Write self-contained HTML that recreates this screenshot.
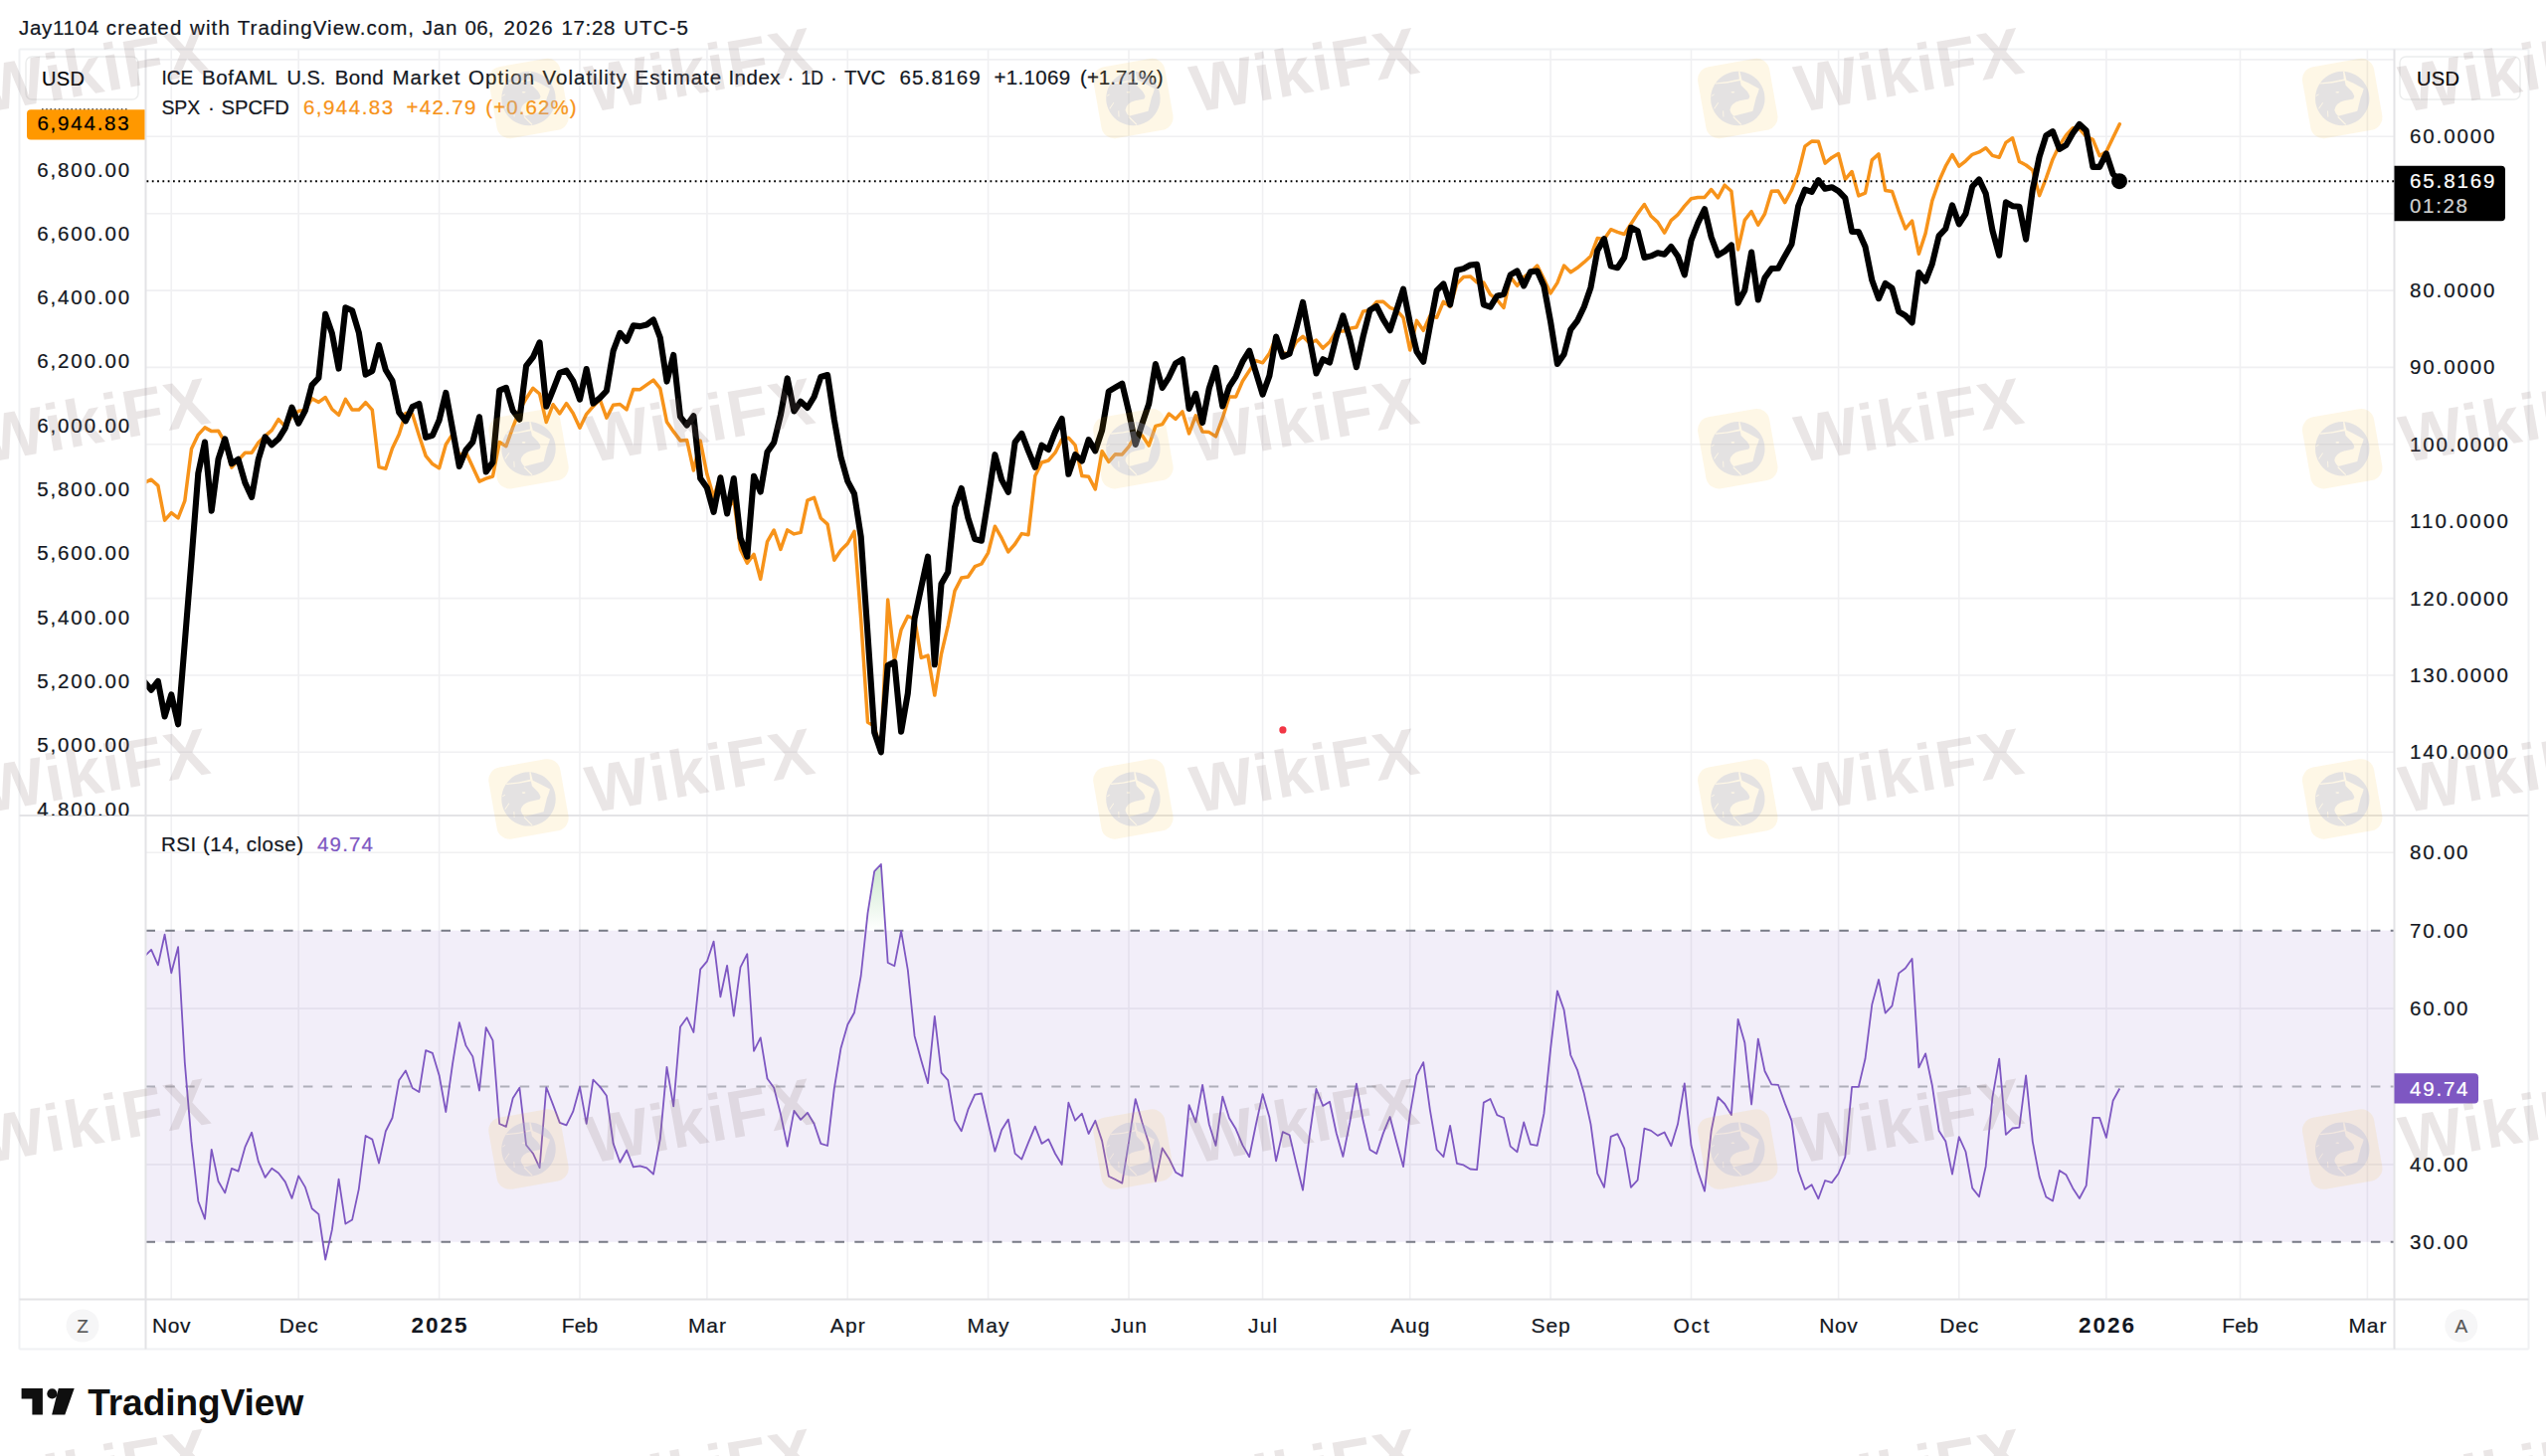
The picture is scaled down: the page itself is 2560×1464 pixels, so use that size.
<!DOCTYPE html>
<html lang="en"><head><meta charset="utf-8"><title>TradingView chart - MOVE index vs SPX</title>
<style>html,body{margin:0;padding:0;background:#fff}body{width:2560px;height:1464px;overflow:hidden}svg{display:block}text{font-family:'Liberation Sans', Arial, Helvetica, sans-serif}</style>
</head><body>
<svg width="2560" height="1464" viewBox="0 0 2560 1464">
<rect width="2560" height="1464" fill="#fff"/>
<path d="M172.3,49.5 V1306.5 M300.2,49.5 V1306.5 M441.6,49.5 V1306.5 M583.0,49.5 V1306.5 M710.9,49.5 V1306.5 M852.3,49.5 V1306.5 M993.6,49.5 V1306.5 M1135.0,49.5 V1306.5 M1269.6,49.5 V1306.5 M1417.7,49.5 V1306.5 M1559.1,49.5 V1306.5 M1700.5,49.5 V1306.5 M1848.6,49.5 V1306.5 M1969.8,49.5 V1306.5 M2117.9,49.5 V1306.5 M2252.5,49.5 V1306.5 M2380.4,49.5 V1306.5 M146.5,59.9 H2407.5 M146.5,137.3 H2407.5 M146.5,214.7 H2407.5 M146.5,292.1 H2407.5 M146.5,369.4 H2407.5 M146.5,446.8 H2407.5 M146.5,524.2 H2407.5 M146.5,601.6 H2407.5 M146.5,679.0 H2407.5 M146.5,756.3 H2407.5 M146.5,857.3 H2407.5 M146.5,1014.1 H2407.5 M146.5,1170.9 H2407.5" stroke="#f0f0f2" stroke-width="1.6" fill="none"/>
<rect x="146.5" y="935.7" width="2261.0" height="313.1" fill="#7e57c2" fill-opacity="0.1"/>
<path d="M146.5,935.7 H2407.5" stroke="#787b86" stroke-opacity="1" stroke-width="2" stroke-dasharray="9.5,10.3" fill="none"/>
<path d="M146.5,1092.6 H2407.5" stroke="#787b86" stroke-opacity="0.55" stroke-width="2" stroke-dasharray="9.5,10.3" fill="none"/>
<path d="M146.5,1248.8 H2407.5" stroke="#787b86" stroke-opacity="1" stroke-width="2" stroke-dasharray="9.5,10.3" fill="none"/>
<path d="M19.5,49.5 H2542.5 M19.5,49.5 V1356.5 M2542.5,49.5 V1356.5" stroke="#f0f1f3" stroke-width="2" fill="none"/>
<path d="M19.5,1356.5 H2542.5" stroke="#f0f1f3" stroke-width="2" fill="none"/>
<path d="M146.5,49.5 V1356.5 M2407.5,49.5 V1356.5 M19.5,820.0 H2542.5 M19.5,1306.5 H2542.5" stroke="#e3e3e6" stroke-width="2" fill="none"/>
<clipPath id="cm"><rect x="147.5" y="49.5" width="2260.0" height="770.5"/></clipPath>
<path clip-path="url(#cm)" d="M145.4,485.2 L152.1,482.2 L158.9,488.4 L165.6,523.2 L172.3,515.7 L179.1,520.9 L185.8,503.7 L192.5,451.3 L199.3,437.1 L206.0,429.9 L212.7,433.6 L219.5,433.2 L226.2,444.8 L232.9,470.1 L239.6,462.7 L246.4,455.2 L253.1,455.2 L259.8,445.0 L266.6,438.4 L273.3,432.6 L280.0,421.6 L286.8,428.9 L293.5,418.1 L300.2,413.3 L307.0,412.5 L313.7,400.7 L320.4,404.4 L327.2,399.5 L333.9,411.5 L340.6,417.3 L347.4,401.4 L354.1,412.0 L360.8,412.1 L367.6,404.7 L374.3,412.2 L381.0,469.6 L387.8,471.2 L394.5,450.7 L401.2,436.8 L407.9,415.6 L414.7,416.4 L421.4,437.9 L428.1,458.4 L434.9,466.6 L441.6,470.7 L448.3,447.0 L455.1,436.4 L461.8,457.8 L468.5,454.8 L482.0,484.1 L488.7,481.2 L495.5,479.0 L502.2,444.6 L508.9,448.7 L515.7,429.6 L522.4,412.7 L529.1,400.7 L535.9,390.3 L542.6,396.0 L549.3,424.5 L556.1,406.7 L562.8,415.9 L569.5,405.6 L576.2,415.5 L583.0,430.2 L589.7,416.3 L596.4,408.7 L603.2,401.6 L609.9,420.1 L616.6,407.2 L623.4,406.5 L630.1,411.8 L636.8,391.5 L643.6,391.7 L650.3,386.8 L657.0,382.1 L663.8,390.7 L670.5,424.3 L677.2,433.9 L684.0,442.9 L690.7,442.6 L697.4,473.0 L704.2,443.1 L710.9,476.8 L717.6,499.8 L724.4,479.1 L731.1,512.6 L737.8,502.4 L744.5,552.4 L751.3,566.1 L758.0,557.3 L764.7,582.3 L771.5,544.6 L778.2,533.0 L784.9,552.4 L791.7,532.9 L798.4,536.9 L805.1,535.4 L811.9,503.2 L818.6,500.3 L825.3,521.0 L832.1,527.1 L838.8,563.2 L845.5,553.3 L852.3,546.5 L859.0,534.3 L865.7,622.5 L872.5,726.2 L879.2,730.0 L885.9,755.5 L892.7,603.1 L899.4,663.8 L906.1,633.2 L912.8,619.5 L919.6,622.5 L926.3,661.4 L933.0,659.1 L939.8,699.1 L946.5,657.5 L953.2,629.1 L960.0,594.1 L966.7,581.1 L973.4,580.0 L980.2,569.7 L986.9,567.0 L993.6,555.8 L1000.4,529.2 L1007.1,540.9 L1013.8,554.9 L1020.6,547.0 L1027.3,536.6 L1034.0,537.8 L1040.8,478.6 L1047.5,465.0 L1054.2,463.0 L1061.0,455.2 L1067.7,441.9 L1074.4,440.2 L1081.1,447.6 L1087.9,478.5 L1094.6,479.3 L1101.3,491.9 L1108.1,453.7 L1114.8,464.3 L1121.5,456.7 L1128.3,456.9 L1135.0,449.1 L1141.7,438.0 L1148.5,437.9 L1155.2,448.0 L1161.9,428.4 L1168.7,426.6 L1175.4,416.0 L1182.1,421.4 L1188.9,413.9 L1195.6,435.9 L1202.3,417.9 L1209.1,434.1 L1215.8,434.6 L1222.5,438.9 L1229.3,420.4 L1236.0,398.9 L1242.7,398.9 L1249.4,383.2 L1256.2,372.8 L1262.9,362.6 L1269.6,364.8 L1276.4,355.4 L1283.1,338.7 L1289.8,354.6 L1296.6,356.0 L1303.3,343.8 L1310.0,338.3 L1316.8,345.0 L1323.5,342.1 L1330.2,350.1 L1337.0,343.7 L1343.7,332.9 L1350.4,333.1 L1357.2,330.2 L1363.9,329.0 L1370.6,313.1 L1377.4,311.7 L1384.1,303.6 L1390.8,303.2 L1397.6,309.3 L1404.3,311.8 L1411.0,319.4 L1417.7,352.0 L1424.5,322.4 L1431.2,332.3 L1437.9,317.6 L1444.7,319.2 L1451.4,303.3 L1458.1,308.4 L1464.9,285.2 L1471.6,278.5 L1478.3,277.9 L1485.1,283.9 L1491.8,284.1 L1498.5,296.2 L1505.3,301.3 L1512.0,309.5 L1518.7,278.4 L1525.5,287.3 L1532.2,278.7 L1538.9,273.7 L1545.7,267.1 L1552.4,280.5 L1559.1,294.9 L1565.9,284.4 L1572.6,267.1 L1579.3,273.7 L1586.0,269.3 L1592.8,263.7 L1599.5,257.5 L1606.2,239.6 L1613.0,240.6 L1619.7,230.7 L1626.4,233.4 L1633.2,235.5 L1639.9,225.3 L1646.6,214.9 L1653.4,205.5 L1660.1,217.3 L1666.8,223.4 L1673.6,234.1 L1680.3,221.6 L1687.0,215.9 L1693.8,207.1 L1700.5,199.8 L1707.2,198.5 L1714.0,198.4 L1720.7,190.5 L1727.4,198.8 L1734.2,186.2 L1740.9,192.2 L1747.6,250.9 L1754.3,221.4 L1761.1,212.7 L1767.8,226.2 L1774.5,215.0 L1781.3,192.2 L1788.0,192.1 L1794.7,203.6 L1801.5,191.1 L1808.2,174.0 L1814.9,147.1 L1821.7,142.1 L1828.4,142.2 L1835.1,164.1 L1841.9,158.4 L1848.6,154.6 L1855.3,180.4 L1862.1,172.5 L1868.8,196.9 L1875.5,194.2 L1882.3,160.9 L1889.0,154.9 L1895.7,191.4 L1902.5,192.5 L1909.2,212.3 L1915.9,230.0 L1922.6,222.0 L1929.4,255.3 L1936.1,234.6 L1942.8,201.8 L1949.6,182.3 L1956.3,167.2 L1963.0,155.5 L1969.8,167.2 L1976.5,161.8 L1983.2,155.3 L1990.0,152.9 L1996.7,148.7 L2003.4,156.4 L2010.2,158.3 L2016.9,143.4 L2023.6,138.8 L2030.4,162.5 L2037.1,166.0 L2043.8,171.2 L2050.6,196.6 L2057.3,179.4 L2064.0,160.2 L2070.8,146.1 L2077.5,136.0 L2084.2,128.8 L2090.9,129.5 L2097.7,137.3 L2104.4,140.4 L2111.1,156.7 L2117.9,152.5 L2124.6,138.5 L2131.3,124.7" stroke="#f7931a" stroke-width="3.5" fill="none" stroke-linejoin="round" stroke-linecap="round"/>
<path d="M147.5,182.2 H2407.5" stroke="#000" stroke-width="1.9" stroke-dasharray="1.8,3.5" fill="none"/>
<path clip-path="url(#cm)" d="M145.4,685.8 L152.1,693.7 L158.9,685.0 L165.6,720.4 L172.3,698.4 L179.1,728.3 L185.8,645.9 L192.5,563.1 L199.3,475.9 L206.0,444.5 L212.7,513.7 L219.5,461.8 L226.2,441.3 L232.9,466.2 L239.6,461.8 L246.4,485.4 L253.1,499.9 L259.8,461.8 L266.6,439.5 L273.3,447.3 L280.0,441.3 L286.8,430.3 L293.5,409.7 L300.2,425.7 L307.0,412.5 L313.7,387.1 L320.4,380.0 L327.2,315.9 L333.9,335.2 L340.6,370.6 L347.4,309.3 L354.1,312.2 L360.8,334.3 L367.6,376.7 L374.3,373.0 L381.0,347.0 L387.8,372.0 L394.5,382.9 L401.2,414.6 L407.9,423.3 L414.7,409.1 L421.4,406.0 L428.1,439.8 L434.9,437.9 L441.6,422.5 L448.3,394.9 L455.1,431.9 L461.8,468.9 L468.5,452.4 L475.3,444.5 L482.0,419.3 L488.7,474.4 L495.5,464.9 L502.2,392.6 L508.9,389.8 L515.7,413.0 L522.4,421.7 L529.1,367.9 L535.9,359.2 L542.6,344.3 L549.3,408.8 L556.1,392.2 L562.8,374.9 L569.5,372.6 L576.2,382.8 L583.0,401.7 L589.7,371.0 L596.4,405.6 L603.2,400.1 L609.9,393.0 L616.6,352.9 L623.4,334.8 L630.1,342.7 L636.8,327.4 L643.6,328.1 L650.3,326.5 L657.0,321.5 L663.8,339.5 L670.5,383.6 L677.2,356.9 L684.0,419.0 L690.7,427.6 L697.4,418.2 L704.2,481.1 L710.9,490.6 L717.6,514.9 L724.4,480.3 L731.1,516.5 L737.8,481.1 L744.5,540.8 L751.3,559.7 L758.0,478.8 L764.7,494.5 L771.5,454.4 L778.2,444.9 L784.9,417.4 L791.7,380.4 L798.4,413.5 L805.1,403.7 L811.9,410.0 L818.6,399.0 L825.3,379.0 L832.1,377.0 L838.8,421.8 L845.5,459.5 L852.3,483.9 L859.0,496.5 L865.7,539.8 L872.5,638.3 L879.2,736.6 L885.9,756.3 L892.7,669.0 L899.4,665.8 L906.1,735.8 L912.8,697.3 L919.6,621.8 L926.3,590.3 L933.0,559.7 L939.8,668.2 L946.5,587.0 L953.2,575.3 L960.0,509.9 L966.7,491.0 L973.4,520.9 L980.2,542.1 L986.9,543.7 L993.6,502.0 L1000.4,457.2 L1007.1,482.4 L1013.8,494.9 L1020.6,444.6 L1027.3,435.9 L1034.0,453.3 L1040.8,469.8 L1047.5,447.7 L1054.2,452.0 L1061.0,434.4 L1067.7,421.0 L1074.4,476.8 L1081.1,457.2 L1087.9,463.5 L1094.6,442.2 L1101.3,453.3 L1108.1,432.8 L1114.8,393.5 L1121.5,389.5 L1128.3,385.6 L1135.0,413.9 L1141.7,447.0 L1148.5,425.7 L1155.2,406.1 L1161.9,366.0 L1168.7,390.0 L1175.4,379.3 L1182.1,365.3 L1188.9,361.3 L1195.6,410.9 L1202.3,395.9 L1209.1,425.0 L1215.8,390.4 L1222.5,370.0 L1229.3,408.5 L1236.0,388.9 L1242.7,378.6 L1249.4,363.7 L1256.2,352.7 L1262.9,374.7 L1269.6,396.7 L1276.4,377.9 L1283.1,338.5 L1289.8,358.7 L1296.6,355.8 L1303.3,330.7 L1310.0,303.9 L1316.8,340.1 L1323.5,375.5 L1330.2,361.3 L1337.0,364.5 L1343.7,338.5 L1350.4,317.3 L1357.2,340.1 L1363.9,369.2 L1370.6,338.5 L1377.4,311.8 L1384.1,307.9 L1390.8,321.2 L1397.6,332.2 L1404.3,311.8 L1411.0,290.6 L1417.7,324.4 L1424.5,353.5 L1431.2,363.7 L1437.9,327.5 L1444.7,292.1 L1451.4,285.4 L1458.1,306.3 L1464.9,271.7 L1471.6,270.1 L1478.3,266.5 L1485.1,265.9 L1491.8,306.3 L1498.5,308.6 L1505.3,297.6 L1512.0,295.7 L1518.7,276.4 L1525.5,272.5 L1532.2,287.4 L1538.9,273.3 L1545.7,272.5 L1552.4,287.4 L1559.1,323.5 L1565.9,365.9 L1572.6,356.2 L1579.3,331.3 L1586.0,322.7 L1592.8,308.5 L1599.5,288.9 L1606.2,251.9 L1613.0,240.1 L1619.7,267.6 L1626.4,269.2 L1633.2,259.0 L1639.9,228.8 L1646.6,232.2 L1653.4,259.0 L1660.1,257.4 L1666.8,254.3 L1673.6,255.8 L1680.3,248.0 L1687.0,257.4 L1693.8,276.3 L1700.5,241.7 L1707.2,224.4 L1714.0,210.2 L1720.7,238.5 L1727.4,256.6 L1734.2,252.7 L1740.9,246.4 L1747.6,304.6 L1754.3,292.0 L1761.1,253.5 L1767.8,301.5 L1774.5,279.4 L1781.3,270.0 L1788.0,269.7 L1794.7,257.4 L1801.5,245.6 L1808.2,207.1 L1814.9,190.6 L1821.7,192.9 L1828.4,181.1 L1835.1,189.8 L1841.9,188.2 L1848.6,192.1 L1855.3,199.2 L1862.1,233.0 L1868.8,233.0 L1875.5,248.0 L1882.3,281.8 L1889.0,300.2 L1895.7,284.9 L1902.5,289.8 L1909.2,313.4 L1915.9,317.3 L1922.6,324.4 L1929.4,274.0 L1936.1,282.7 L1942.8,265.4 L1949.6,237.1 L1956.3,230.0 L1963.0,206.4 L1969.8,225.3 L1976.5,215.0 L1983.2,187.5 L1990.0,180.4 L1996.7,194.6 L2003.4,231.6 L2010.2,256.7 L2016.9,203.3 L2023.6,207.2 L2030.4,207.7 L2037.1,240.7 L2043.8,190.7 L2050.6,157.6 L2057.3,136.4 L2064.0,132.2 L2070.8,149.8 L2077.5,145.8 L2084.2,134.0 L2090.9,124.9 L2097.7,131.2 L2104.4,167.9 L2111.1,167.9 L2117.9,154.5 L2124.6,174.9 L2131.3,182.0" stroke="#000" stroke-width="6.1" fill="none" stroke-linejoin="round" stroke-linecap="round"/>
<circle cx="2131" cy="182.2" r="8" fill="#000"/>
<circle cx="1289.9" cy="733.9" r="3.6" fill="#f23645"/>
<defs><linearGradient id="gg" gradientUnits="userSpaceOnUse" x1="0" y1="700.5" x2="0" y2="935.7"><stop offset="0" stop-color="#4caf50" stop-opacity="1"/><stop offset="1" stop-color="#4caf50" stop-opacity="0"/></linearGradient><linearGradient id="rg" gradientUnits="userSpaceOnUse" x1="0" y1="1248.8" x2="0" y2="1484.5"><stop offset="0" stop-color="#ff5252" stop-opacity="0"/><stop offset="1" stop-color="#ff5252" stop-opacity="1"/></linearGradient><clipPath id="c70"><rect x="146.5" y="820.0" width="2261.0" height="115.7"/></clipPath><clipPath id="c30"><rect x="146.5" y="1248.8" width="2261.0" height="57.7"/></clipPath><clipPath id="cr"><rect x="147.5" y="820.0" width="2260.0" height="486.5"/></clipPath></defs>
<path d="M145.4,961.6 L152.1,954.9 L158.9,970.4 L165.6,939.7 L172.3,978.3 L179.1,952.2 L185.8,1068.3 L192.5,1147.7 L199.3,1207.7 L206.0,1225.6 L212.7,1155.8 L219.5,1187.7 L226.2,1199.4 L232.9,1174.9 L239.6,1177.7 L246.4,1153.4 L253.1,1138.7 L259.8,1167.9 L266.6,1183.9 L273.3,1174.8 L280.0,1179.5 L286.8,1188.4 L293.5,1204.9 L300.2,1182.4 L307.0,1193.9 L313.7,1215.2 L320.4,1220.9 L327.2,1266.5 L333.9,1236.4 L340.6,1185.6 L347.4,1230.6 L354.1,1226.6 L360.8,1195.6 L367.6,1142.0 L374.3,1145.6 L381.0,1169.5 L387.8,1137.5 L394.5,1124.0 L401.2,1086.3 L407.9,1076.5 L414.7,1094.0 L421.4,1098.0 L428.1,1056.2 L434.9,1058.9 L441.6,1081.2 L448.3,1118.0 L455.1,1069.3 L461.8,1028.1 L468.5,1051.4 L475.3,1062.4 L482.0,1096.5 L488.7,1033.2 L495.5,1046.1 L502.2,1130.0 L508.9,1132.9 L515.7,1104.3 L522.4,1093.8 L529.1,1151.4 L535.9,1159.7 L542.6,1174.1 L549.3,1093.3 L556.1,1110.9 L562.8,1128.9 L569.5,1131.4 L576.2,1117.7 L583.0,1092.9 L589.7,1129.8 L596.4,1085.7 L603.2,1092.6 L609.9,1101.8 L616.6,1149.6 L623.4,1168.7 L630.1,1156.5 L636.8,1173.4 L643.6,1172.4 L650.3,1174.3 L657.0,1180.7 L663.8,1145.1 L670.5,1072.8 L677.2,1112.4 L684.0,1032.5 L690.7,1023.2 L697.4,1038.0 L704.2,974.7 L710.9,966.7 L717.6,946.6 L724.4,1002.3 L731.1,970.8 L737.8,1021.7 L744.5,972.7 L751.3,959.2 L758.0,1056.8 L764.7,1043.4 L771.5,1084.5 L778.2,1093.7 L784.9,1120.1 L791.7,1152.6 L798.4,1116.9 L805.1,1125.9 L811.9,1118.8 L818.6,1130.0 L825.3,1149.9 L832.1,1152.0 L838.8,1094.6 L845.5,1053.9 L852.3,1030.2 L859.0,1018.3 L865.7,981.0 L872.5,918.2 L879.2,876.1 L885.9,869.0 L892.7,968.0 L899.4,971.2 L906.1,936.2 L912.8,975.2 L919.6,1041.7 L926.3,1066.3 L933.0,1089.2 L939.8,1021.9 L946.5,1078.6 L953.2,1086.1 L960.0,1126.3 L966.7,1137.2 L973.4,1115.7 L980.2,1100.6 L986.9,1099.5 L993.6,1128.8 L1000.4,1157.7 L1007.1,1136.3 L1013.8,1125.6 L1020.6,1159.9 L1027.3,1165.6 L1034.0,1148.8 L1040.8,1132.7 L1047.5,1149.9 L1054.2,1145.4 L1061.0,1160.0 L1067.7,1171.0 L1074.4,1108.7 L1081.1,1126.7 L1087.9,1119.7 L1094.6,1140.0 L1101.3,1126.8 L1108.1,1147.1 L1114.8,1182.7 L1121.5,1186.0 L1128.3,1189.6 L1135.0,1148.2 L1141.7,1105.1 L1148.5,1128.8 L1155.2,1149.7 L1161.9,1187.8 L1168.7,1154.4 L1175.4,1164.9 L1182.1,1178.7 L1188.9,1182.6 L1195.6,1111.2 L1202.3,1128.3 L1209.1,1090.8 L1215.8,1130.5 L1222.5,1151.9 L1229.3,1102.6 L1236.0,1124.2 L1242.7,1135.3 L1249.4,1151.4 L1256.2,1163.2 L1262.9,1130.5 L1269.6,1100.1 L1276.4,1123.6 L1283.1,1167.3 L1289.8,1138.1 L1296.6,1141.3 L1303.3,1169.6 L1310.0,1196.7 L1316.8,1141.4 L1323.5,1095.0 L1330.2,1111.9 L1337.0,1107.7 L1343.7,1139.2 L1350.4,1162.9 L1357.2,1128.9 L1363.9,1089.6 L1370.6,1126.8 L1377.4,1155.9 L1384.1,1160.1 L1390.8,1139.6 L1397.6,1123.0 L1404.3,1148.5 L1411.0,1173.1 L1417.7,1120.4 L1424.5,1081.1 L1431.2,1068.1 L1437.9,1116.1 L1444.7,1156.0 L1451.4,1163.2 L1458.1,1131.8 L1464.9,1169.8 L1471.6,1171.4 L1478.3,1175.5 L1485.1,1176.2 L1491.8,1108.6 L1498.5,1105.0 L1505.3,1121.1 L1512.0,1124.0 L1518.7,1152.6 L1525.5,1158.2 L1532.2,1128.4 L1538.9,1150.6 L1545.7,1151.8 L1552.4,1119.9 L1559.1,1054.7 L1565.9,996.4 L1572.6,1015.5 L1579.3,1061.0 L1586.0,1075.8 L1592.8,1099.6 L1599.5,1130.4 L1606.2,1179.8 L1613.0,1193.8 L1619.7,1142.9 L1626.4,1140.1 L1633.2,1154.7 L1639.9,1193.8 L1646.6,1186.7 L1653.4,1134.6 L1660.1,1136.9 L1666.8,1141.9 L1673.6,1138.5 L1680.3,1152.2 L1687.0,1130.3 L1693.8,1089.5 L1700.5,1151.8 L1707.2,1177.8 L1714.0,1197.6 L1720.7,1137.0 L1727.4,1103.2 L1734.2,1110.0 L1740.9,1121.1 L1747.6,1024.9 L1754.3,1048.2 L1761.1,1110.5 L1767.8,1044.6 L1774.5,1077.0 L1781.3,1090.4 L1788.0,1090.8 L1794.7,1109.4 L1801.5,1126.9 L1808.2,1177.2 L1814.9,1195.9 L1821.7,1191.3 L1828.4,1205.3 L1835.1,1187.0 L1841.9,1189.1 L1848.6,1180.0 L1855.3,1163.3 L1862.1,1092.9 L1868.8,1092.9 L1875.5,1064.5 L1882.3,1010.0 L1889.0,985.0 L1895.7,1018.6 L1902.5,1011.4 L1909.2,978.6 L1915.9,973.5 L1922.6,964.0 L1929.4,1073.4 L1936.1,1059.4 L1942.8,1091.2 L1949.6,1136.9 L1956.3,1147.4 L1963.0,1180.6 L1969.8,1143.1 L1976.5,1158.0 L1983.2,1194.6 L1990.0,1203.3 L1996.7,1172.7 L2003.4,1103.6 L2010.2,1064.6 L2016.9,1140.8 L2023.6,1134.5 L2030.4,1133.7 L2037.1,1081.3 L2043.8,1147.8 L2050.6,1183.1 L2057.3,1203.5 L2064.0,1207.5 L2070.8,1176.9 L2077.5,1181.3 L2084.2,1194.7 L2090.9,1205.0 L2097.7,1192.1 L2104.4,1123.9 L2111.1,1123.9 L2117.9,1143.9 L2124.6,1106.8 L2131.3,1094.5 V935.7 H145.4 Z" fill="url(#gg)" clip-path="url(#c70)"/>
<path d="M145.4,961.6 L152.1,954.9 L158.9,970.4 L165.6,939.7 L172.3,978.3 L179.1,952.2 L185.8,1068.3 L192.5,1147.7 L199.3,1207.7 L206.0,1225.6 L212.7,1155.8 L219.5,1187.7 L226.2,1199.4 L232.9,1174.9 L239.6,1177.7 L246.4,1153.4 L253.1,1138.7 L259.8,1167.9 L266.6,1183.9 L273.3,1174.8 L280.0,1179.5 L286.8,1188.4 L293.5,1204.9 L300.2,1182.4 L307.0,1193.9 L313.7,1215.2 L320.4,1220.9 L327.2,1266.5 L333.9,1236.4 L340.6,1185.6 L347.4,1230.6 L354.1,1226.6 L360.8,1195.6 L367.6,1142.0 L374.3,1145.6 L381.0,1169.5 L387.8,1137.5 L394.5,1124.0 L401.2,1086.3 L407.9,1076.5 L414.7,1094.0 L421.4,1098.0 L428.1,1056.2 L434.9,1058.9 L441.6,1081.2 L448.3,1118.0 L455.1,1069.3 L461.8,1028.1 L468.5,1051.4 L475.3,1062.4 L482.0,1096.5 L488.7,1033.2 L495.5,1046.1 L502.2,1130.0 L508.9,1132.9 L515.7,1104.3 L522.4,1093.8 L529.1,1151.4 L535.9,1159.7 L542.6,1174.1 L549.3,1093.3 L556.1,1110.9 L562.8,1128.9 L569.5,1131.4 L576.2,1117.7 L583.0,1092.9 L589.7,1129.8 L596.4,1085.7 L603.2,1092.6 L609.9,1101.8 L616.6,1149.6 L623.4,1168.7 L630.1,1156.5 L636.8,1173.4 L643.6,1172.4 L650.3,1174.3 L657.0,1180.7 L663.8,1145.1 L670.5,1072.8 L677.2,1112.4 L684.0,1032.5 L690.7,1023.2 L697.4,1038.0 L704.2,974.7 L710.9,966.7 L717.6,946.6 L724.4,1002.3 L731.1,970.8 L737.8,1021.7 L744.5,972.7 L751.3,959.2 L758.0,1056.8 L764.7,1043.4 L771.5,1084.5 L778.2,1093.7 L784.9,1120.1 L791.7,1152.6 L798.4,1116.9 L805.1,1125.9 L811.9,1118.8 L818.6,1130.0 L825.3,1149.9 L832.1,1152.0 L838.8,1094.6 L845.5,1053.9 L852.3,1030.2 L859.0,1018.3 L865.7,981.0 L872.5,918.2 L879.2,876.1 L885.9,869.0 L892.7,968.0 L899.4,971.2 L906.1,936.2 L912.8,975.2 L919.6,1041.7 L926.3,1066.3 L933.0,1089.2 L939.8,1021.9 L946.5,1078.6 L953.2,1086.1 L960.0,1126.3 L966.7,1137.2 L973.4,1115.7 L980.2,1100.6 L986.9,1099.5 L993.6,1128.8 L1000.4,1157.7 L1007.1,1136.3 L1013.8,1125.6 L1020.6,1159.9 L1027.3,1165.6 L1034.0,1148.8 L1040.8,1132.7 L1047.5,1149.9 L1054.2,1145.4 L1061.0,1160.0 L1067.7,1171.0 L1074.4,1108.7 L1081.1,1126.7 L1087.9,1119.7 L1094.6,1140.0 L1101.3,1126.8 L1108.1,1147.1 L1114.8,1182.7 L1121.5,1186.0 L1128.3,1189.6 L1135.0,1148.2 L1141.7,1105.1 L1148.5,1128.8 L1155.2,1149.7 L1161.9,1187.8 L1168.7,1154.4 L1175.4,1164.9 L1182.1,1178.7 L1188.9,1182.6 L1195.6,1111.2 L1202.3,1128.3 L1209.1,1090.8 L1215.8,1130.5 L1222.5,1151.9 L1229.3,1102.6 L1236.0,1124.2 L1242.7,1135.3 L1249.4,1151.4 L1256.2,1163.2 L1262.9,1130.5 L1269.6,1100.1 L1276.4,1123.6 L1283.1,1167.3 L1289.8,1138.1 L1296.6,1141.3 L1303.3,1169.6 L1310.0,1196.7 L1316.8,1141.4 L1323.5,1095.0 L1330.2,1111.9 L1337.0,1107.7 L1343.7,1139.2 L1350.4,1162.9 L1357.2,1128.9 L1363.9,1089.6 L1370.6,1126.8 L1377.4,1155.9 L1384.1,1160.1 L1390.8,1139.6 L1397.6,1123.0 L1404.3,1148.5 L1411.0,1173.1 L1417.7,1120.4 L1424.5,1081.1 L1431.2,1068.1 L1437.9,1116.1 L1444.7,1156.0 L1451.4,1163.2 L1458.1,1131.8 L1464.9,1169.8 L1471.6,1171.4 L1478.3,1175.5 L1485.1,1176.2 L1491.8,1108.6 L1498.5,1105.0 L1505.3,1121.1 L1512.0,1124.0 L1518.7,1152.6 L1525.5,1158.2 L1532.2,1128.4 L1538.9,1150.6 L1545.7,1151.8 L1552.4,1119.9 L1559.1,1054.7 L1565.9,996.4 L1572.6,1015.5 L1579.3,1061.0 L1586.0,1075.8 L1592.8,1099.6 L1599.5,1130.4 L1606.2,1179.8 L1613.0,1193.8 L1619.7,1142.9 L1626.4,1140.1 L1633.2,1154.7 L1639.9,1193.8 L1646.6,1186.7 L1653.4,1134.6 L1660.1,1136.9 L1666.8,1141.9 L1673.6,1138.5 L1680.3,1152.2 L1687.0,1130.3 L1693.8,1089.5 L1700.5,1151.8 L1707.2,1177.8 L1714.0,1197.6 L1720.7,1137.0 L1727.4,1103.2 L1734.2,1110.0 L1740.9,1121.1 L1747.6,1024.9 L1754.3,1048.2 L1761.1,1110.5 L1767.8,1044.6 L1774.5,1077.0 L1781.3,1090.4 L1788.0,1090.8 L1794.7,1109.4 L1801.5,1126.9 L1808.2,1177.2 L1814.9,1195.9 L1821.7,1191.3 L1828.4,1205.3 L1835.1,1187.0 L1841.9,1189.1 L1848.6,1180.0 L1855.3,1163.3 L1862.1,1092.9 L1868.8,1092.9 L1875.5,1064.5 L1882.3,1010.0 L1889.0,985.0 L1895.7,1018.6 L1902.5,1011.4 L1909.2,978.6 L1915.9,973.5 L1922.6,964.0 L1929.4,1073.4 L1936.1,1059.4 L1942.8,1091.2 L1949.6,1136.9 L1956.3,1147.4 L1963.0,1180.6 L1969.8,1143.1 L1976.5,1158.0 L1983.2,1194.6 L1990.0,1203.3 L1996.7,1172.7 L2003.4,1103.6 L2010.2,1064.6 L2016.9,1140.8 L2023.6,1134.5 L2030.4,1133.7 L2037.1,1081.3 L2043.8,1147.8 L2050.6,1183.1 L2057.3,1203.5 L2064.0,1207.5 L2070.8,1176.9 L2077.5,1181.3 L2084.2,1194.7 L2090.9,1205.0 L2097.7,1192.1 L2104.4,1123.9 L2111.1,1123.9 L2117.9,1143.9 L2124.6,1106.8 L2131.3,1094.5 V1248.8 H145.4 Z" fill="url(#rg)" clip-path="url(#c30)"/>
<path d="M145.4,961.6 L152.1,954.9 L158.9,970.4 L165.6,939.7 L172.3,978.3 L179.1,952.2 L185.8,1068.3 L192.5,1147.7 L199.3,1207.7 L206.0,1225.6 L212.7,1155.8 L219.5,1187.7 L226.2,1199.4 L232.9,1174.9 L239.6,1177.7 L246.4,1153.4 L253.1,1138.7 L259.8,1167.9 L266.6,1183.9 L273.3,1174.8 L280.0,1179.5 L286.8,1188.4 L293.5,1204.9 L300.2,1182.4 L307.0,1193.9 L313.7,1215.2 L320.4,1220.9 L327.2,1266.5 L333.9,1236.4 L340.6,1185.6 L347.4,1230.6 L354.1,1226.6 L360.8,1195.6 L367.6,1142.0 L374.3,1145.6 L381.0,1169.5 L387.8,1137.5 L394.5,1124.0 L401.2,1086.3 L407.9,1076.5 L414.7,1094.0 L421.4,1098.0 L428.1,1056.2 L434.9,1058.9 L441.6,1081.2 L448.3,1118.0 L455.1,1069.3 L461.8,1028.1 L468.5,1051.4 L475.3,1062.4 L482.0,1096.5 L488.7,1033.2 L495.5,1046.1 L502.2,1130.0 L508.9,1132.9 L515.7,1104.3 L522.4,1093.8 L529.1,1151.4 L535.9,1159.7 L542.6,1174.1 L549.3,1093.3 L556.1,1110.9 L562.8,1128.9 L569.5,1131.4 L576.2,1117.7 L583.0,1092.9 L589.7,1129.8 L596.4,1085.7 L603.2,1092.6 L609.9,1101.8 L616.6,1149.6 L623.4,1168.7 L630.1,1156.5 L636.8,1173.4 L643.6,1172.4 L650.3,1174.3 L657.0,1180.7 L663.8,1145.1 L670.5,1072.8 L677.2,1112.4 L684.0,1032.5 L690.7,1023.2 L697.4,1038.0 L704.2,974.7 L710.9,966.7 L717.6,946.6 L724.4,1002.3 L731.1,970.8 L737.8,1021.7 L744.5,972.7 L751.3,959.2 L758.0,1056.8 L764.7,1043.4 L771.5,1084.5 L778.2,1093.7 L784.9,1120.1 L791.7,1152.6 L798.4,1116.9 L805.1,1125.9 L811.9,1118.8 L818.6,1130.0 L825.3,1149.9 L832.1,1152.0 L838.8,1094.6 L845.5,1053.9 L852.3,1030.2 L859.0,1018.3 L865.7,981.0 L872.5,918.2 L879.2,876.1 L885.9,869.0 L892.7,968.0 L899.4,971.2 L906.1,936.2 L912.8,975.2 L919.6,1041.7 L926.3,1066.3 L933.0,1089.2 L939.8,1021.9 L946.5,1078.6 L953.2,1086.1 L960.0,1126.3 L966.7,1137.2 L973.4,1115.7 L980.2,1100.6 L986.9,1099.5 L993.6,1128.8 L1000.4,1157.7 L1007.1,1136.3 L1013.8,1125.6 L1020.6,1159.9 L1027.3,1165.6 L1034.0,1148.8 L1040.8,1132.7 L1047.5,1149.9 L1054.2,1145.4 L1061.0,1160.0 L1067.7,1171.0 L1074.4,1108.7 L1081.1,1126.7 L1087.9,1119.7 L1094.6,1140.0 L1101.3,1126.8 L1108.1,1147.1 L1114.8,1182.7 L1121.5,1186.0 L1128.3,1189.6 L1135.0,1148.2 L1141.7,1105.1 L1148.5,1128.8 L1155.2,1149.7 L1161.9,1187.8 L1168.7,1154.4 L1175.4,1164.9 L1182.1,1178.7 L1188.9,1182.6 L1195.6,1111.2 L1202.3,1128.3 L1209.1,1090.8 L1215.8,1130.5 L1222.5,1151.9 L1229.3,1102.6 L1236.0,1124.2 L1242.7,1135.3 L1249.4,1151.4 L1256.2,1163.2 L1262.9,1130.5 L1269.6,1100.1 L1276.4,1123.6 L1283.1,1167.3 L1289.8,1138.1 L1296.6,1141.3 L1303.3,1169.6 L1310.0,1196.7 L1316.8,1141.4 L1323.5,1095.0 L1330.2,1111.9 L1337.0,1107.7 L1343.7,1139.2 L1350.4,1162.9 L1357.2,1128.9 L1363.9,1089.6 L1370.6,1126.8 L1377.4,1155.9 L1384.1,1160.1 L1390.8,1139.6 L1397.6,1123.0 L1404.3,1148.5 L1411.0,1173.1 L1417.7,1120.4 L1424.5,1081.1 L1431.2,1068.1 L1437.9,1116.1 L1444.7,1156.0 L1451.4,1163.2 L1458.1,1131.8 L1464.9,1169.8 L1471.6,1171.4 L1478.3,1175.5 L1485.1,1176.2 L1491.8,1108.6 L1498.5,1105.0 L1505.3,1121.1 L1512.0,1124.0 L1518.7,1152.6 L1525.5,1158.2 L1532.2,1128.4 L1538.9,1150.6 L1545.7,1151.8 L1552.4,1119.9 L1559.1,1054.7 L1565.9,996.4 L1572.6,1015.5 L1579.3,1061.0 L1586.0,1075.8 L1592.8,1099.6 L1599.5,1130.4 L1606.2,1179.8 L1613.0,1193.8 L1619.7,1142.9 L1626.4,1140.1 L1633.2,1154.7 L1639.9,1193.8 L1646.6,1186.7 L1653.4,1134.6 L1660.1,1136.9 L1666.8,1141.9 L1673.6,1138.5 L1680.3,1152.2 L1687.0,1130.3 L1693.8,1089.5 L1700.5,1151.8 L1707.2,1177.8 L1714.0,1197.6 L1720.7,1137.0 L1727.4,1103.2 L1734.2,1110.0 L1740.9,1121.1 L1747.6,1024.9 L1754.3,1048.2 L1761.1,1110.5 L1767.8,1044.6 L1774.5,1077.0 L1781.3,1090.4 L1788.0,1090.8 L1794.7,1109.4 L1801.5,1126.9 L1808.2,1177.2 L1814.9,1195.9 L1821.7,1191.3 L1828.4,1205.3 L1835.1,1187.0 L1841.9,1189.1 L1848.6,1180.0 L1855.3,1163.3 L1862.1,1092.9 L1868.8,1092.9 L1875.5,1064.5 L1882.3,1010.0 L1889.0,985.0 L1895.7,1018.6 L1902.5,1011.4 L1909.2,978.6 L1915.9,973.5 L1922.6,964.0 L1929.4,1073.4 L1936.1,1059.4 L1942.8,1091.2 L1949.6,1136.9 L1956.3,1147.4 L1963.0,1180.6 L1969.8,1143.1 L1976.5,1158.0 L1983.2,1194.6 L1990.0,1203.3 L1996.7,1172.7 L2003.4,1103.6 L2010.2,1064.6 L2016.9,1140.8 L2023.6,1134.5 L2030.4,1133.7 L2037.1,1081.3 L2043.8,1147.8 L2050.6,1183.1 L2057.3,1203.5 L2064.0,1207.5 L2070.8,1176.9 L2077.5,1181.3 L2084.2,1194.7 L2090.9,1205.0 L2097.7,1192.1 L2104.4,1123.9 L2111.1,1123.9 L2117.9,1143.9 L2124.6,1106.8 L2131.3,1094.5" stroke="#7e57c2" stroke-width="1.8" fill="none" stroke-linejoin="round" clip-path="url(#cr)"/>
<text x="18.9" y="35.0" font-size="20.5" fill="#131722" textLength="80.4" lengthAdjust="spacing" stroke="#131722" stroke-width="0.22">Jay1104</text>
<text x="106.8" y="35.0" font-size="20.5" fill="#131722" textLength="75.5" lengthAdjust="spacing" stroke="#131722" stroke-width="0.22">created</text>
<text x="191.0" y="35.0" font-size="20.5" fill="#131722" textLength="39.8" lengthAdjust="spacing" stroke="#131722" stroke-width="0.22">with</text>
<text x="238.8" y="35.0" font-size="20.5" fill="#131722" textLength="177.2" lengthAdjust="spacing" stroke="#131722" stroke-width="0.22">TradingView.com,</text>
<text x="424.8" y="35.0" font-size="20.5" fill="#131722" textLength="34.7" lengthAdjust="spacing" stroke="#131722" stroke-width="0.22">Jan</text>
<text x="467.6" y="35.0" font-size="20.5" fill="#131722" textLength="28.9" lengthAdjust="spacing" stroke="#131722" stroke-width="0.22">06,</text>
<text x="506.5" y="35.0" font-size="20.5" fill="#131722" textLength="49.1" lengthAdjust="spacing" stroke="#131722" stroke-width="0.22">2026</text>
<text x="564.4" y="35.0" font-size="20.5" fill="#131722" textLength="54.0" lengthAdjust="spacing" stroke="#131722" stroke-width="0.22">17:28</text>
<text x="627.2" y="35.0" font-size="20.5" fill="#131722" textLength="64.8" lengthAdjust="spacing" stroke="#131722" stroke-width="0.22">UTC-5</text>
<text x="162.4" y="84.5" font-size="20.5" fill="#131722" textLength="31.8" lengthAdjust="spacingAndGlyphs" stroke="#131722" stroke-width="0.22">ICE</text>
<text x="203.0" y="84.5" font-size="20.5" fill="#131722" textLength="76.0" lengthAdjust="spacing" stroke="#131722" stroke-width="0.22">BofAML</text>
<text x="288.4" y="84.5" font-size="20.5" fill="#131722" textLength="38.9" lengthAdjust="spacingAndGlyphs" stroke="#131722" stroke-width="0.22">U.S.</text>
<text x="336.8" y="84.5" font-size="20.5" fill="#131722" textLength="48.9" lengthAdjust="spacing" stroke="#131722" stroke-width="0.22">Bond</text>
<text x="394.5" y="84.5" font-size="20.5" fill="#131722" textLength="67.9" lengthAdjust="spacing" stroke="#131722" stroke-width="0.22">Market</text>
<text x="470.9" y="84.5" font-size="20.5" fill="#131722" textLength="66.3" lengthAdjust="spacing" stroke="#131722" stroke-width="0.22">Option</text>
<text x="545.5" y="84.5" font-size="20.5" fill="#131722" textLength="84.2" lengthAdjust="spacing" stroke="#131722" stroke-width="0.22">Volatility</text>
<text x="638.5" y="84.5" font-size="20.5" fill="#131722" textLength="86.7" lengthAdjust="spacing" stroke="#131722" stroke-width="0.22">Estimate</text>
<text x="732.4" y="84.5" font-size="20.5" fill="#131722" textLength="52.2" lengthAdjust="spacing" stroke="#131722" stroke-width="0.22">Index</text>
<text x="791.4" y="84.5" font-size="20.5" fill="#131722" stroke="#131722" stroke-width="0.22">·</text>
<text x="805.4" y="84.5" font-size="20.5" fill="#131722" textLength="22.4" lengthAdjust="spacingAndGlyphs" stroke="#131722" stroke-width="0.22">1D</text>
<text x="835.0" y="84.5" font-size="20.5" fill="#131722" stroke="#131722" stroke-width="0.22">·</text>
<text x="849.0" y="84.5" font-size="20.5" fill="#131722" textLength="41.3" lengthAdjust="spacing" stroke="#131722" stroke-width="0.22">TVC</text>
<text x="904.4" y="84.5" font-size="20.5" fill="#131722" textLength="81.3" lengthAdjust="spacing" stroke="#131722" stroke-width="0.22">65.8169</text>
<text x="999.5" y="84.5" font-size="20.5" fill="#131722" textLength="76.6" lengthAdjust="spacing" stroke="#131722" stroke-width="0.22">+1.1069</text>
<text x="1086.1" y="84.5" font-size="20.5" fill="#131722" textLength="83.6" lengthAdjust="spacing" stroke="#131722" stroke-width="0.22">(+1.71%)</text>
<text x="162.4" y="114.5" font-size="20.5" fill="#131722" textLength="38.9" lengthAdjust="spacingAndGlyphs" stroke="#131722" stroke-width="0.22">SPX</text>
<text x="209.0" y="114.5" font-size="20.5" fill="#131722" stroke="#131722" stroke-width="0.22">·</text>
<text x="222.5" y="114.5" font-size="20.5" fill="#131722" textLength="68.3" lengthAdjust="spacingAndGlyphs" stroke="#131722" stroke-width="0.22">SPCFD</text>
<text x="304.9" y="114.5" font-size="20.5" fill="#f7931a" textLength="90.2" lengthAdjust="spacing" stroke="#f7931a" stroke-width="0.22">6,944.83</text>
<text x="408.6" y="114.5" font-size="20.5" fill="#f7931a" textLength="69.7" lengthAdjust="spacing" stroke="#f7931a" stroke-width="0.22">+42.79</text>
<text x="488.3" y="114.5" font-size="20.5" fill="#f7931a" textLength="91.3" lengthAdjust="spacing" stroke="#f7931a" stroke-width="0.22">(+0.62%)</text>
<text x="162.0" y="856.4" font-size="20.5" fill="#131722" textLength="143.0" lengthAdjust="spacing" stroke="#131722" stroke-width="0.22">RSI (14, close)</text>
<text x="319.0" y="856.4" font-size="20.5" fill="#7e57c2" textLength="56.0" lengthAdjust="spacing" stroke="#7e57c2" stroke-width="0.22">49.74</text>
<clipPath id="cl"><rect x="20" y="50" width="126" height="770"/></clipPath>
<g clip-path="url(#cl)">
<text x="37.2" y="177.5" font-size="20.5" fill="#131722" textLength="93.0" lengthAdjust="spacing" stroke="#131722" stroke-width="0.22">6,800.00</text>
<text x="37.2" y="241.8" font-size="20.5" fill="#131722" textLength="93.0" lengthAdjust="spacing" stroke="#131722" stroke-width="0.22">6,600.00</text>
<text x="37.2" y="306.1" font-size="20.5" fill="#131722" textLength="93.0" lengthAdjust="spacing" stroke="#131722" stroke-width="0.22">6,400.00</text>
<text x="37.2" y="370.4" font-size="20.5" fill="#131722" textLength="93.0" lengthAdjust="spacing" stroke="#131722" stroke-width="0.22">6,200.00</text>
<text x="37.2" y="434.7" font-size="20.5" fill="#131722" textLength="93.0" lengthAdjust="spacing" stroke="#131722" stroke-width="0.22">6,000.00</text>
<text x="37.2" y="499.0" font-size="20.5" fill="#131722" textLength="93.0" lengthAdjust="spacing" stroke="#131722" stroke-width="0.22">5,800.00</text>
<text x="37.2" y="563.3" font-size="20.5" fill="#131722" textLength="93.0" lengthAdjust="spacing" stroke="#131722" stroke-width="0.22">5,600.00</text>
<text x="37.2" y="627.6" font-size="20.5" fill="#131722" textLength="93.0" lengthAdjust="spacing" stroke="#131722" stroke-width="0.22">5,400.00</text>
<text x="37.2" y="691.9" font-size="20.5" fill="#131722" textLength="93.0" lengthAdjust="spacing" stroke="#131722" stroke-width="0.22">5,200.00</text>
<text x="37.2" y="756.2" font-size="20.5" fill="#131722" textLength="93.0" lengthAdjust="spacing" stroke="#131722" stroke-width="0.22">5,000.00</text>
<text x="37.2" y="820.5" font-size="20.5" fill="#131722" textLength="93.0" lengthAdjust="spacing" stroke="#131722" stroke-width="0.22">4,800.00</text>
</g>
<rect x="26" y="57" width="113" height="43" rx="6" fill="#fff" fill-opacity="0.6" stroke="#eceded" stroke-width="1.5"/>
<text x="42.0" y="85.5" font-size="20" fill="#000" textLength="43.0" lengthAdjust="spacing" stroke="#000" stroke-width="0.22">USD</text>
<rect x="2413" y="57" width="121" height="43" rx="6" fill="#fff" fill-opacity="0.6" stroke="#eceded" stroke-width="1.5"/>
<text x="2430.0" y="85.5" font-size="20" fill="#000" textLength="43.0" lengthAdjust="spacing" stroke="#000" stroke-width="0.22">USD</text>
<path d="M42,110 H129" stroke="#222" stroke-width="1.4" stroke-dasharray="1.6,2.6" fill="none"/>
<path d="M31,110.2 H145.5 V140.5 H31 a4,4 0 0 1 -4,-4 V114.2 a4,4 0 0 1 4,-4 Z" fill="#ff9800"/>
<text x="37.4" y="131.4" font-size="20.5" fill="#000" textLength="92.3" lengthAdjust="spacing" stroke="#000" stroke-width="0.22">6,944.83</text>
<text x="2423.0" y="144.2" font-size="20.5" fill="#131722" textLength="85.5" lengthAdjust="spacing" stroke="#131722" stroke-width="0.22">60.0000</text>
<text x="2423.0" y="299.0" font-size="20.5" fill="#131722" textLength="85.5" lengthAdjust="spacing" stroke="#131722" stroke-width="0.22">80.0000</text>
<text x="2423.0" y="376.3" font-size="20.5" fill="#131722" textLength="85.5" lengthAdjust="spacing" stroke="#131722" stroke-width="0.22">90.0000</text>
<text x="2423.0" y="453.7" font-size="20.5" fill="#131722" textLength="98.8" lengthAdjust="spacing" stroke="#131722" stroke-width="0.22">100.0000</text>
<text x="2423.0" y="531.1" font-size="20.5" fill="#131722" textLength="98.8" lengthAdjust="spacing" stroke="#131722" stroke-width="0.22">110.0000</text>
<text x="2423.0" y="608.5" font-size="20.5" fill="#131722" textLength="98.8" lengthAdjust="spacing" stroke="#131722" stroke-width="0.22">120.0000</text>
<text x="2423.0" y="685.9" font-size="20.5" fill="#131722" textLength="98.8" lengthAdjust="spacing" stroke="#131722" stroke-width="0.22">130.0000</text>
<text x="2423.0" y="763.2" font-size="20.5" fill="#131722" textLength="98.8" lengthAdjust="spacing" stroke="#131722" stroke-width="0.22">140.0000</text>
<text x="2423.0" y="864.2" font-size="20.5" fill="#131722" textLength="58.5" lengthAdjust="spacing" stroke="#131722" stroke-width="0.22">80.00</text>
<text x="2423.0" y="942.6" font-size="20.5" fill="#131722" textLength="58.5" lengthAdjust="spacing" stroke="#131722" stroke-width="0.22">70.00</text>
<text x="2423.0" y="1021.0" font-size="20.5" fill="#131722" textLength="58.5" lengthAdjust="spacing" stroke="#131722" stroke-width="0.22">60.00</text>
<text x="2423.0" y="1177.8" font-size="20.5" fill="#131722" textLength="58.5" lengthAdjust="spacing" stroke="#131722" stroke-width="0.22">40.00</text>
<text x="2423.0" y="1256.2" font-size="20.5" fill="#131722" textLength="58.5" lengthAdjust="spacing" stroke="#131722" stroke-width="0.22">30.00</text>
<path d="M2407.5,166.7 H2515 a4,4 0 0 1 4,4 V218.2 a4,4 0 0 1 -4,4 H2407.5 Z" fill="#000"/>
<text x="2423.0" y="188.7" font-size="20.5" fill="#fff" textLength="85.5" lengthAdjust="spacing" stroke="#fff" stroke-width="0.22">65.8169</text>
<text x="2423.0" y="213.8" font-size="20.5" fill="#cfcfcf" textLength="58.0" lengthAdjust="spacing" stroke="#cfcfcf" stroke-width="0.22">01:28</text>
<path d="M2407.5,1079.2 H2488 a4,4 0 0 1 4,4 V1105.5 a4,4 0 0 1 -4,4 H2407.5 Z" fill="#7e57c2"/>
<text x="2423.0" y="1101.8" font-size="20.5" fill="#fff" textLength="58.5" lengthAdjust="spacing" stroke="#fff" stroke-width="0.22">49.74</text>
<text x="172.3" y="1339.9" font-size="21" fill="#131722" text-anchor="middle" textLength="38.5" lengthAdjust="spacing" stroke="#131722" stroke-width="0.22">Nov</text>
<text x="300.2" y="1339.9" font-size="21" fill="#131722" text-anchor="middle" textLength="39.0" lengthAdjust="spacing" stroke="#131722" stroke-width="0.22">Dec</text>
<text x="441.6" y="1339.9" font-size="22.5" fill="#131722" text-anchor="middle" font-weight="700" textLength="56.0" lengthAdjust="spacing">2025</text>
<text x="583.0" y="1339.9" font-size="21" fill="#131722" text-anchor="middle" textLength="36.5" lengthAdjust="spacing" stroke="#131722" stroke-width="0.22">Feb</text>
<text x="710.9" y="1339.9" font-size="21" fill="#131722" text-anchor="middle" textLength="38.0" lengthAdjust="spacing" stroke="#131722" stroke-width="0.22">Mar</text>
<text x="852.3" y="1339.9" font-size="21" fill="#131722" text-anchor="middle" textLength="35.0" lengthAdjust="spacing" stroke="#131722" stroke-width="0.22">Apr</text>
<text x="993.6" y="1339.9" font-size="21" fill="#131722" text-anchor="middle" textLength="42.0" lengthAdjust="spacing" stroke="#131722" stroke-width="0.22">May</text>
<text x="1135.0" y="1339.9" font-size="21" fill="#131722" text-anchor="middle" textLength="36.0" lengthAdjust="spacing" stroke="#131722" stroke-width="0.22">Jun</text>
<text x="1269.6" y="1339.9" font-size="21" fill="#131722" text-anchor="middle" textLength="29.0" lengthAdjust="spacing" stroke="#131722" stroke-width="0.22">Jul</text>
<text x="1417.7" y="1339.9" font-size="21" fill="#131722" text-anchor="middle" textLength="39.5" lengthAdjust="spacing" stroke="#131722" stroke-width="0.22">Aug</text>
<text x="1559.1" y="1339.9" font-size="21" fill="#131722" text-anchor="middle" textLength="39.0" lengthAdjust="spacing" stroke="#131722" stroke-width="0.22">Sep</text>
<text x="1700.5" y="1339.9" font-size="21" fill="#131722" text-anchor="middle" textLength="36.0" lengthAdjust="spacing" stroke="#131722" stroke-width="0.22">Oct</text>
<text x="1848.6" y="1339.9" font-size="21" fill="#131722" text-anchor="middle" textLength="38.5" lengthAdjust="spacing" stroke="#131722" stroke-width="0.22">Nov</text>
<text x="1969.8" y="1339.9" font-size="21" fill="#131722" text-anchor="middle" textLength="39.0" lengthAdjust="spacing" stroke="#131722" stroke-width="0.22">Dec</text>
<text x="2117.9" y="1339.9" font-size="22.5" fill="#131722" text-anchor="middle" font-weight="700" textLength="56.0" lengthAdjust="spacing">2026</text>
<text x="2252.5" y="1339.9" font-size="21" fill="#131722" text-anchor="middle" textLength="36.5" lengthAdjust="spacing" stroke="#131722" stroke-width="0.22">Feb</text>
<text x="2380.4" y="1339.9" font-size="21" fill="#131722" text-anchor="middle" textLength="38.0" lengthAdjust="spacing" stroke="#131722" stroke-width="0.22">Mar</text>
<circle cx="83" cy="1333" r="16.5" fill="#f6f6f7"/>
<text x="83.0" y="1339.8" font-size="19" fill="#555555" text-anchor="middle" stroke="#555555" stroke-width="0.22">Z</text>
<circle cx="2474.8" cy="1333" r="16.5" fill="#f6f6f7"/>
<text x="2474.8" y="1339.8" font-size="19" fill="#555555" text-anchor="middle" stroke="#555555" stroke-width="0.22">A</text>
<g fill="#0f0f0f"><path d="M21.6,1396.1 H42.9 V1422.5 H32.4 V1406.6 H21.6 Z"/><circle cx="52.4" cy="1401.4" r="5.1"/><path d="M58.8,1396.1 H74.7 L65.3,1422.5 H52.1 Z"/></g>
<text x="88.2" y="1422.5" font-size="37" fill="#0f0f0f" font-weight="700" textLength="217.0" lengthAdjust="spacing">TradingView</text>
<defs><g id="wm"><rect transform="rotate(-10)" x="-36.5" y="-36.5" width="73" height="73" rx="13" fill="#f5b21e" fill-opacity="0.11"/><path d="M0,-27.2 A27.2,27.2 0 1 0 0.01,-27.2 Z M-22.3,-15.6 L-10.2,-16.9 L1.6,-19.6 L0.8,-26.9 L2.2,-26.9 L4.2,-18.6 L11,-15.5 L21.5,-9.8 Q20.3,-5 18.5,-1.1 L15.1,12.8 L-4.2,17.8 Q-7,15 -7.9,11.7 Q-7.5,8 -4.9,5.7 Q-2,3.3 1.9,2.3 L11,0.4 L12.1,-1.9 Q11.2,-4.8 9.4,-7.2 L3.4,-13.2 L2.4,-18 L-10.2,-15.6 L-22.3,-14.4 Z M-5,18.7 L-4,18 L4,26 L3.1,26.7 Z M-6.8,-6.3 A1.9,0.8 0 1 0 -3,-6.3 A1.9,0.8 0 1 0 -6.8,-6.3 Z M-26.4,-2.9 L-23.8,-4.6 L-23.4,-3.9 L-26,-2.2 Z M-24,10 L-19.9,4 L-19.2,4.5 L-23.3,10.5 Z M-15.1,12.5 L-14.2,12.5 L-13.9,18.5 L-14.8,18.5 Z" fill-rule="evenodd" fill="#a8b4dc" fill-opacity="0.3"/><g fill="#8a7070" fill-opacity="0.175"><text transform="rotate(-10)" x="59" y="24.7" font-size="67" font-weight="700" letter-spacing="1.6">WikiFX</text></g></g></defs>
<use href="#wm" x="-76.4" y="-253.2"/>
<use href="#wm" x="531.5" y="-253.2"/>
<use href="#wm" x="1139.4" y="-253.2"/>
<use href="#wm" x="1747.3" y="-253.2"/>
<use href="#wm" x="2355.2" y="-253.2"/>
<use href="#wm" x="2963.1" y="-253.2"/>
<use href="#wm" x="-76.4" y="99.0"/>
<use href="#wm" x="531.5" y="99.0"/>
<use href="#wm" x="1139.4" y="99.0"/>
<use href="#wm" x="1747.3" y="99.0"/>
<use href="#wm" x="2355.2" y="99.0"/>
<use href="#wm" x="2963.1" y="99.0"/>
<use href="#wm" x="-76.4" y="451.2"/>
<use href="#wm" x="531.5" y="451.2"/>
<use href="#wm" x="1139.4" y="451.2"/>
<use href="#wm" x="1747.3" y="451.2"/>
<use href="#wm" x="2355.2" y="451.2"/>
<use href="#wm" x="2963.1" y="451.2"/>
<use href="#wm" x="-76.4" y="803.4"/>
<use href="#wm" x="531.5" y="803.4"/>
<use href="#wm" x="1139.4" y="803.4"/>
<use href="#wm" x="1747.3" y="803.4"/>
<use href="#wm" x="2355.2" y="803.4"/>
<use href="#wm" x="2963.1" y="803.4"/>
<use href="#wm" x="-76.4" y="1155.6"/>
<use href="#wm" x="531.5" y="1155.6"/>
<use href="#wm" x="1139.4" y="1155.6"/>
<use href="#wm" x="1747.3" y="1155.6"/>
<use href="#wm" x="2355.2" y="1155.6"/>
<use href="#wm" x="2963.1" y="1155.6"/>
<use href="#wm" x="-76.4" y="1507.8"/>
<use href="#wm" x="531.5" y="1507.8"/>
<use href="#wm" x="1139.4" y="1507.8"/>
<use href="#wm" x="1747.3" y="1507.8"/>
<use href="#wm" x="2355.2" y="1507.8"/>
<use href="#wm" x="2963.1" y="1507.8"/>
</svg></body></html>
